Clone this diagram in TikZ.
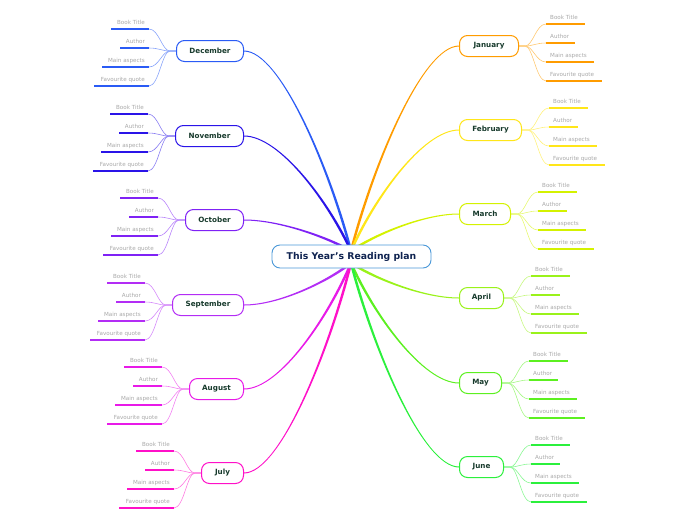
\documentclass[tikz,border=0pt]{standalone}
\usepackage{fontspec}
\setmainfont{DejaVu Sans}
\usetikzlibrary{calc,backgrounds}
\definecolor{cjan}{HTML}{FF9C00}
\definecolor{cfeb}{HTML}{FFE619}
\definecolor{cmar}{HTML}{D4F200}
\definecolor{capr}{HTML}{9AF21A}
\definecolor{cmay}{HTML}{5CF020}
\definecolor{cjun}{HTML}{2BF03C}
\definecolor{cjul}{HTML}{FF10C8}
\definecolor{caug}{HTML}{E81AE8}
\definecolor{csep}{HTML}{B32DF5}
\definecolor{coct}{HTML}{7F22F5}
\definecolor{cnov}{HTML}{2A14E8}
\definecolor{cdec}{HTML}{2A5BF5}
\definecolor{hubblue}{HTML}{4A98D8}
\definecolor{hubtext}{HTML}{0F2350}
\definecolor{monthtext}{HTML}{173A2C}
\definecolor{leafgray}{HTML}{A8A8A8}
\tikzset{
  month/.style={draw=#1, line width=1pt, rounded corners=8pt, fill=white,
    minimum height=21pt, inner sep=0pt, text=monthtext,
    font=\bfseries\fontsize{7.2}{8}\selectfont},
  central/.style={draw=hubblue, line width=0.9pt, rounded corners=8pt, fill=white,
    minimum width=159pt, minimum height=23pt, inner sep=0pt, text=hubtext,
    font=\bfseries\fontsize{9.3}{10}\selectfont},
  twig/.style={draw=#1!55, line width=0.6pt},
  uline/.style={draw=#1, line width=2pt, line cap=butt},
  leaf/.style={inner sep=0pt, text=leafgray, font=\fontsize{5.6}{6}\selectfont},
}
% tapered trunk from hub point #2 to month anchor #3, colour #1
\newcommand\Trunk[3]{%
  \fill[#1] let \p1=(#2), \p2=(#3),
      \p3=({\x1+0.2*(\x2-\x1)},{\y1+0.41*(\y2-\y1)}),
      \p4=({\x2-0.34*(\x2-\x1)},\y2),
      \n1={atan2(\y3-\y1,\x3-\x1)+90},
      \n2={1.25*cos(\n1)}, \n3={1.25*sin(\n1)},
      \n4={0.5*sign(\x2-\x1)} in
    ({\x1+\n2*1pt},{\y1+\n3*1pt}) .. controls ({\x3+\n2*1pt},{\y3+\n3*1pt}) and (\x4,{\y4+\n4*1pt}) .. (\x2,{\y2+\n4*1pt})
    -- (\x2,{\y2-\n4*1pt}) .. controls (\x4,{\y4-\n4*1pt}) and ({\x3-\n2*1pt},{\y3-\n3*1pt}) .. ({\x1-\n2*1pt},{\y1-\n3*1pt}) -- cycle;}
\newcommand\RightLeaves[2]{%
  \foreach \k/\oy/\lw/\txt in {1/-22/39/Book Title,2/-3/29/Author,3/16/48/Main aspects,4/35/56/Favourite quote}{%
    \coordinate (#1-\k) at ($(#1.east)+(27,\oy)$);
    \draw[twig=#2] (#1.east) -- ++(6,0) .. controls +(8,0) and +(-10,0) .. (#1-\k);
    \draw[uline=#2] (#1-\k) -- ++(\lw,0);
    \node[leaf,anchor=base west] (#1-\k-t) at ($(#1-\k)+(4,-4.5)$) {\txt};
  }}
\newcommand\LeftLeaves[2]{%
  \foreach \k/\oy/\lw/\txt in {1/-22/38/Book Title,2/-3/29/Author,3/16/47/Main aspects,4/35/55/Favourite quote}{%
    \coordinate (#1-\k) at ($(#1.west)+(-27,\oy)$);
    \draw[twig=#2] (#1.west) -- ++(-6,0) .. controls +(-8,0) and +(10,0) .. (#1-\k);
    \draw[uline=#2] (#1-\k) -- ++(-\lw,0);
    \node[leaf,anchor=base east] (#1-\k-t) at ($(#1-\k)+(-4,-4.5)$) {\txt};
  }}
\begin{document}
\begin{tikzpicture}[x=1pt,y=-1pt]
\useasboundingbox (0,0) rectangle (696,520);
% central
\node[central] (hub) at (351.5,256.5) {This Year's Reading plan};
% right months
\node[month=cjan, anchor=west, minimum width=59pt] (jan) at (459,46) {January};
\node[month=cfeb, anchor=west, minimum width=62pt] (feb) at (459,130) {February};
\node[month=cmar, anchor=west, minimum width=51pt] (mar) at (459,214) {March};
\node[month=capr, anchor=west, minimum width=44pt] (apr) at (459,298) {April};
\node[month=cmay, anchor=west, minimum width=42pt] (may) at (459,383) {May};
\node[month=cjun, anchor=west, minimum width=44pt] (jun) at (459,467) {June};
% left months
\node[month=cdec, anchor=east, minimum width=67pt] (dec) at (244,51) {December};
\node[month=cnov, anchor=east, minimum width=68pt] (nov) at (244,136) {November};
\node[month=coct, anchor=east, minimum width=58pt] (oct) at (244,220) {October};
\node[month=csep, anchor=east, minimum width=71pt] (sep) at (244,305) {September};
\node[month=caug, anchor=east, minimum width=54pt] (aug) at (244,389) {August};
\node[month=cjul, anchor=east, minimum width=42pt] (jul) at (244,473) {July};
\coordinate (ctop) at (351,251);
\coordinate (cbot) at (351,263);
\begin{pgfonlayer}{background}
\Trunk{cjan}{ctop}{jan.west}
\Trunk{cfeb}{ctop}{feb.west}
\Trunk{cmar}{ctop}{mar.west}
\Trunk{capr}{cbot}{apr.west}
\Trunk{cmay}{cbot}{may.west}
\Trunk{cjun}{cbot}{jun.west}
\Trunk{cdec}{ctop}{dec.east}
\Trunk{cnov}{ctop}{nov.east}
\Trunk{coct}{ctop}{oct.east}
\Trunk{csep}{cbot}{sep.east}
\Trunk{caug}{cbot}{aug.east}
\Trunk{cjul}{cbot}{jul.east}
\RightLeaves{jan}{cjan}
\RightLeaves{feb}{cfeb}
\RightLeaves{mar}{cmar}
\RightLeaves{apr}{capr}
\RightLeaves{may}{cmay}
\RightLeaves{jun}{cjun}
\LeftLeaves{dec}{cdec}
\LeftLeaves{nov}{cnov}
\LeftLeaves{oct}{coct}
\LeftLeaves{sep}{csep}
\LeftLeaves{aug}{caug}
\LeftLeaves{jul}{cjul}
\end{pgfonlayer}
\end{tikzpicture}
\end{document}
